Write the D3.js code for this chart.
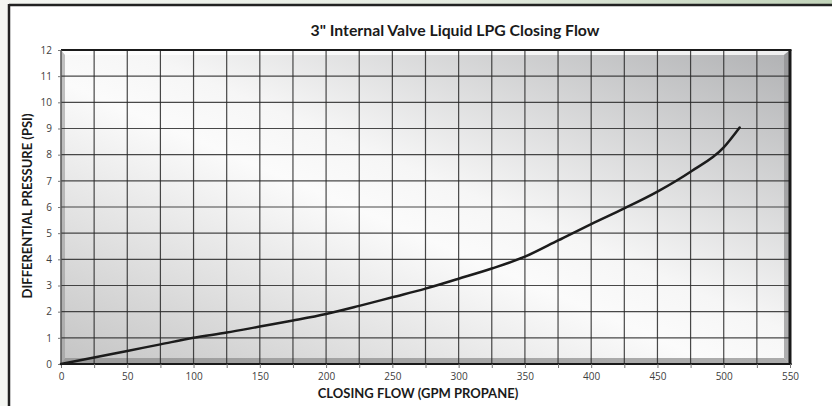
<!DOCTYPE html>
<html><head><meta charset="utf-8">
<script src="https://cdn.jsdelivr.net/npm/d3@7"></script>
<style>
html,body{margin:0;padding:0;background:#f4f6f2;}
svg{display:block;}
</style></head>
<body>
<svg id="c" width="832" height="406"></svg>
<script>
const title = '3" Internal Valve Liquid LPG Closing Flow';
const xTitle = 'CLOSING FLOW (GPM PROPANE)';
const yTitle = 'DIFFERENTIAL PRESSURE (PSI)';
const flow = [0,25,50,75,100,125,150,175,200,225,250,275,300,325,350,375,400,425,450,475,500,512];
const pressure = [0,0.25,0.5,0.75,1.0,1.2,1.43,1.66,1.91,2.22,2.55,2.88,3.26,3.65,4.1,4.72,5.35,5.95,6.59,7.35,8.28,9.04];
const xTickLabels = [0,50,100,150,200,250,300,350,400,450,500,550];
const yTickLabels = [0,1,2,3,4,5,6,7,8,9,10,11,12];
const xMinor = d3.range(0,551,25);

const svg = d3.select('#c');
const defs = svg.append('defs');
const tg = defs.append('linearGradient').attr('id','top').attr('x1',0).attr('x2',1).attr('y1',0).attr('y2',0);
tg.append('stop').attr('offset',0).attr('stop-color','#f4f6f2');
tg.append('stop').attr('offset',0.55).attr('stop-color','#e4ebe0');
tg.append('stop').attr('offset',1).attr('stop-color','#c2d4ba');
const pg = defs.append('linearGradient').attr('id','plot').attr('x1',0).attr('y1',1).attr('x2',1).attr('y2',0);
pg.append('stop').attr('offset',0).attr('stop-color','#c4c4c4');
pg.append('stop').attr('offset',0.45).attr('stop-color','#fbfbfb');
pg.append('stop').attr('offset',0.55).attr('stop-color','#f6f6f6');
pg.append('stop').attr('offset',1).attr('stop-color','#b0b1b3');

// outer strip + frame
svg.append('rect').attr('x',0).attr('y',0).attr('width',832).attr('height',5).attr('fill','url(#top)');
svg.append('rect').attr('x',9).attr('y',5).attr('width',823).attr('height',401).attr('fill','#ffffff');
svg.append('line').attr('x1',9).attr('x2',832).attr('y1',5).attr('y2',5).attr('stroke','#222').attr('stroke-width',2.5);
svg.append('line').attr('x1',9).attr('x2',9).attr('y1',4).attr('y2',406).attr('stroke','#222').attr('stroke-width',2.5);

const L=61, R=790, T=50, B=364;
const x = d3.scaleLinear().domain([0,550]).range([L,R]);
const y = d3.scaleLinear().domain([0,12]).range([B,T]);

// plot background
svg.append('rect').attr('x',L).attr('y',T).attr('width',R-L).attr('height',B-T).attr('fill','url(#plot)');
// bevel
const bev = svg.append('g');
bev.append('polygon').attr('points',`${L},${T} ${R},${T} ${R-6},${T+5} ${L+4},${T+5}`).attr('fill','#ffffff').attr('opacity',0.8);
bev.append('polygon').attr('points',`${R},${T} ${R},${B} ${R-6},${B-6} ${R-6},${T+5}`).attr('fill','#8e8e90').attr('opacity',0.7);
bev.append('polygon').attr('points',`${L},${B} ${R},${B} ${R-6},${B-6} ${L+4},${B-6}`).attr('fill','#8a8a8a').attr('opacity',0.7);
bev.append('polygon').attr('points',`${L},${T} ${L+4},${T+5} ${L+4},${B-6} ${L},${B}`).attr('fill','#9a9a9a').attr('opacity',0.6);

// gridlines
svg.append('g').selectAll('line').data(xMinor.filter(d=>d>0&&d<550)).join('line')
  .attr('x1',d=>x(d)).attr('x2',d=>x(d)).attr('y1',T).attr('y2',B)
  .attr('stroke','#2a2a2a').attr('stroke-width',1.2).attr('opacity',0.85);
svg.append('g').selectAll('line').data(yTickLabels.filter(d=>d>0&&d<12)).join('line')
  .attr('x1',L).attr('x2',R).attr('y1',d=>y(d)).attr('y2',d=>y(d))
  .attr('stroke','#2a2a2a').attr('stroke-width',1.2).attr('opacity',0.85);

// plot border
svg.append('line').attr('x1',L).attr('x2',R+1.5).attr('y1',T).attr('y2',T).attr('stroke','#1a1a1a').attr('stroke-width',2);
svg.append('line').attr('x1',R).attr('x2',R).attr('y1',T).attr('y2',B+1).attr('stroke','#1a1a1a').attr('stroke-width',3);
svg.append('line').attr('x1',L).attr('x2',R+1.5).attr('y1',B).attr('y2',B).attr('stroke','#1a1a1a').attr('stroke-width',2);
svg.append('line').attr('x1',L).attr('x2',L).attr('y1',T).attr('y2',B).attr('stroke','#555').attr('stroke-width',1.5);

// axes
const fontTick = 'Open Sans, Liberation Sans, sans-serif';
const xAxis = d3.axisBottom(x).tickValues(xMinor).tickSize(4).tickFormat(d=> d%50===0 ? d : '');
const gx = svg.append('g').attr('transform',`translate(0,${B})`).call(xAxis);
gx.select('.domain').remove();
gx.selectAll('line').attr('stroke','#777');
gx.selectAll('text').attr('font-family',fontTick).attr('font-size',10).attr('fill','#404040').attr('dy','0.9em');
const yAxis = d3.axisLeft(y).tickValues(yTickLabels).tickSize(3).tickPadding(6);
const gy = svg.append('g').attr('transform',`translate(${L},0)`).call(yAxis);
gy.select('.domain').remove();
gy.selectAll('line').attr('stroke','#777');
gy.selectAll('text').attr('font-family',fontTick).attr('font-size',10).attr('fill','#404040');

// curve
const line = d3.line().x((d,i)=>x(flow[i])).y((d,i)=>y(pressure[i])).curve(d3.curveMonotoneX);
svg.append('path').datum(pressure).attr('d',line).attr('fill','none').attr('stroke','#1c1c1c').attr('stroke-width',2.5).attr('stroke-linecap','round');

// titles
const fontT = 'Lato, Open Sans, sans-serif';
svg.append('text').attr('x',455).attr('y',36).attr('text-anchor','middle').attr('font-family',fontT).attr('font-weight','bold').attr('font-size',15.8).attr('fill','#1a1a1a').text(title);
svg.append('text').attr('x',418).attr('y',398).attr('text-anchor','middle').attr('font-family',fontT).attr('font-weight','bold').attr('font-size',13).attr('fill','#1a1a1a').text(xTitle);
svg.append('text').attr('transform','translate(32,206) rotate(-90)').attr('text-anchor','middle').attr('font-family',fontT).attr('font-weight','bold').attr('font-size',13).attr('fill','#1a1a1a').text(yTitle);
</script>
</body></html>
